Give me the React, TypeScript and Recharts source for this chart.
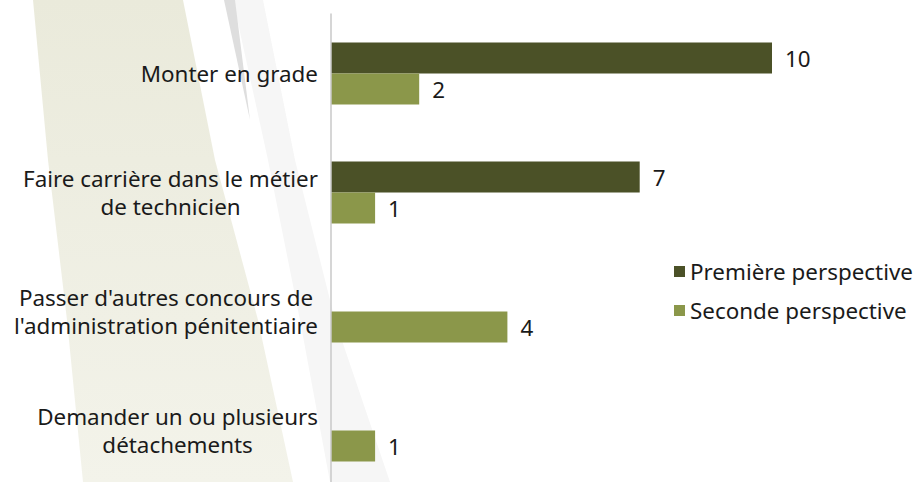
import React from "react";
import { BarChart, Bar, XAxis, YAxis, LabelList } from "recharts";

const categories = [
  "Monter en grade",
  "Faire carrière dans le métier\nde technicien",
  "Passer d'autres concours de\nl'administration pénitentiaire",
  "Demander un ou plusieurs\ndétachements",
];
const premiere: (number | null)[] = [10, 7, null, null];
const seconde: (number | null)[] = [2, 1, 4, 1];
const seriesNames = ["Première perspective", "Seconde perspective"];

const data = categories.map((name, i) => ({
  name,
  premiere: premiere[i],
  seconde: seconde[i],
}));

const FONT = "'Noto Sans', sans-serif";
const FONT_SIZE = 22.4;
const DARK = "#4b5127";
const LIGHT = "#8b974a";

let ctx: CanvasRenderingContext2D | null = null;
function measure(t: string): number {
  if (!ctx) {
    const c = document.createElement("canvas");
    ctx = c.getContext("2d");
  }
  if (!ctx) return t.length * FONT_SIZE * 0.55;
  ctx.font = `${FONT_SIZE}px 'Noto Sans'`;
  return ctx.measureText(t).width;
}

const YTick = (props: any) => {
  const { x, y, payload } = props;
  const lines: string[] = String(payload.value).split("\n");
  const maxW = Math.max(...lines.map(measure));
  const cx = x - 5 - maxW / 2;
  const lh = 28;
  const start = y - ((lines.length - 1) * lh) / 2;
  return (
    <text
      x={cx}
      y={start}
      textAnchor="middle"
      dominantBaseline="central"
      fill="#1a1a1a"
      fontSize={FONT_SIZE}
      fontFamily={FONT}
    >
      {lines.map((l, i) => (
        <tspan key={i} x={cx} y={start + i * lh} dominantBaseline="central">
          {l}
        </tspan>
      ))}
    </text>
  );
};

const ValueLabel = (props: any) => {
  const { x, y, width, height, value } = props;
  if (value === null || value === undefined) return null;
  return (
    <text
      x={x + width + 13}
      y={y + height / 2}
      dominantBaseline="central"
      fill="#1a1a1a"
      fontSize={FONT_SIZE}
      fontFamily={FONT}
    >
      {value}
    </text>
  );
};

const LegendBox = () => (
  <div
    style={{
      position: "absolute",
      left: 674,
      top: 252,
      width: 245,
      fontFamily: FONT,
      fontSize: FONT_SIZE,
      color: "#1a1a1a",
    }}
  >
    {seriesNames.map((n, i) => (
      <div key={n} style={{ display: "flex", alignItems: "center", height: 39 }}>
        <span
          style={{
            display: "inline-block",
            width: 11,
            height: 11,
            background: i === 0 ? DARK : LIGHT,
            marginRight: 5,
            flexShrink: 0,
          }}
        />
        <span style={{ whiteSpace: "nowrap" }}>{n}</span>
      </div>
    ))}
  </div>
);

const Background = () => (
  <svg width={919} height={482} style={{ position: "absolute", left: 0, top: 0 }}>
    <defs>
      <linearGradient id="beige" x1="0" y1="0" x2="0" y2="1">
        <stop offset="0" stopColor="#eaeadb" />
        <stop offset="1" stopColor="#f3f3ea" />
      </linearGradient>
    </defs>
    <polygon
      points="33,0 48,160 67,320 83,482 293,482 258,320 215,160 183,0"
      fill="url(#beige)"
    />
    <polygon
      points="233,0 263,0 295,160 335,320 390,482 330,482 300,320 268,160"
      fill="#f6f6f6"
    />
    <polygon points="224,0 235,0 250,120" fill="#dedede" />
  </svg>
);

export default function App() {
  return (
    <div
      style={{
        position: "absolute",
        left: 0,
        top: 0,
        width: 919,
        height: 482,
        overflow: "hidden",
        background: "#ffffff",
      }}
    >
      <Background />
      <div style={{ position: "absolute", left: 0, top: 0 }}>
        <BarChart
          width={919}
          height={500}
          data={data}
          layout="vertical"
          margin={{ top: 13.5, right: 58.8, left: 0, bottom: 10.5 }}
          barSize={31}
          barGap={0}
          style={{ fontFamily: FONT }}
        >
          <XAxis type="number" domain={[0, 12]} hide />
          <YAxis
            type="category"
            dataKey="name"
            width={331}
            axisLine={{ stroke: "#c8c8c8", strokeWidth: 1.5 }}
            tickLine={false}
            tick={<YTick />}
            interval={0}
          />
          <Bar dataKey="premiere" name={seriesNames[0]} fill={DARK} isAnimationActive={false}>
            <LabelList dataKey="premiere" content={<ValueLabel />} />
          </Bar>
          <Bar dataKey="seconde" name={seriesNames[1]} fill={LIGHT} isAnimationActive={false}>
            <LabelList dataKey="seconde" content={<ValueLabel />} />
          </Bar>
        </BarChart>
      </div>
      <LegendBox />
    </div>
  );
}
